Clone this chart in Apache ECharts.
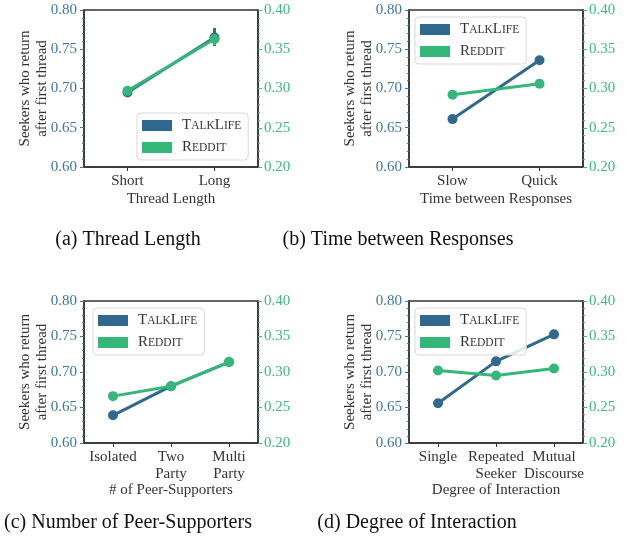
<!DOCTYPE html>
<html>
<head>
<meta charset="utf-8">
<script src="https://cdn.jsdelivr.net/npm/echarts@6/dist/echarts.min.js"></script>
<style>html,body{margin:0;padding:0;background:#fff;}#c{width:626px;height:544px;}</style>
</head>
<body>
<div id="c"></div>
<script>
// ---- data ----
var catsA = ['Short', 'Long'];
var talkA = [0.695, 0.765];
var redditA = [0.297, 0.363];
var talkErrA = [[0.692, 0.699], [0.754, 0.777]];
var redditErrA = [[0.294, 0.300], [0.355, 0.369]];

var catsB = ['Slow', 'Quick'];
var talkB = [0.661, 0.736];
var redditB = [0.292, 0.306];

var catsC = ['Isolated', 'Two\nParty', 'Multi\nParty'];
var talkC = [0.639, 0.680, 0.714];
var redditC = [0.266, 0.280, 0.314];

var catsD = ['Single', 'Repeated\nSeeker', 'Mutual\nDiscourse'];
var talkD = [0.656, 0.715, 0.753];
var redditD = [0.302, 0.295, 0.305];

var xNames = ['Thread Length', 'Time between Responses', '# of Peer-Supporters', 'Degree of Interaction'];
var captions = ['(a) Thread Length', '(b) Time between Responses', '(c) Number of Peer-Supporters', '(d) Degree of Interaction'];
var leftTicks = {min: 0.6, max: 0.8, interval: 0.05};
var rightTicks = {min: 0.2, max: 0.4, interval: 0.05};
var yTitle = 'Seekers who return\nafter first thread';

// ---- style ----
var TL = '#31688e', RD = '#35b779';
var TLtext = '#3d78a3', RDtext = '#3cbb7c';
var FONT = 'Liberation Serif';
var DARK = '#333333';

var grids = [
  {left: 84, top: 10, width: 174, height: 157},
  {left: 409, top: 10, width: 174, height: 157},
  {left: 84, top: 301, width: 174, height: 142},
  {left: 409, top: 301, width: 174, height: 142}
];
var legendPos = [
  {left: 137, top: 113},
  {left: 415, top: 17},
  {left: 93, top: 308},
  {left: 415, top: 308}
];
var captionPos = [[128, 240], [398, 240], [128, 523], [417, 523]];
var allCats = [catsA, catsB, catsC, catsD];
var allTalk = [talkA, talkB, talkC, talkD];
var allReddit = [redditA, redditB, redditC, redditD];

function errSeries(errs, gi, ax, color, z) {
  return {
    type: 'custom', xAxisIndex: gi, yAxisIndex: 2 * gi + ax, z: z,
    data: errs.map(function (e, k) { return [k, e[0], e[1]]; }),
    encode: {x: 0, y: [1, 2]},
    renderItem: function (params, api) {
      var lo = api.coord([api.value(0), api.value(1)]);
      var hi = api.coord([api.value(0), api.value(2)]);
      return {type: 'line', shape: {x1: lo[0], y1: lo[1], x2: hi[0], y2: hi[1]},
        style: {stroke: color, lineWidth: 3}};
    }
  };
}

var xAxis = [], yAxis = [], series = [], legend = [], graphic = [];
grids.forEach(function (g, i) {
  g.show = true; g.borderColor = DARK; g.borderWidth = 1.5; g.containLabel = false;
  xAxis.push({
    type: 'category', gridIndex: i, data: allCats[i], boundaryGap: true,
    name: xNames[i], nameLocation: 'middle', nameGap: (i < 2 ? 25 : 40),
    nameMoveOverlap: false,
    nameTextStyle: {fontFamily: FONT, fontSize: 15, color: DARK},
    axisLine: {show: true, lineStyle: {color: DARK, width: 1.5}},
    axisTick: {show: true, alignWithLabel: true, length: 4, lineStyle: {color: DARK}},
    axisLabel: {fontFamily: FONT, fontSize: 15, color: DARK, margin: 6, lineHeight: 17, interval: 0},
    splitLine: {show: false}
  });
  yAxis.push({
    type: 'value', gridIndex: i, position: 'left',
    min: leftTicks.min, max: leftTicks.max, interval: leftTicks.interval,
    name: yTitle, nameLocation: 'middle', nameRotate: 90, nameGap: 33,
    nameMoveOverlap: false,
    nameTextStyle: {fontFamily: FONT, fontSize: 15, color: DARK, lineHeight: 17},
    axisLine: {show: true, lineStyle: {color: DARK, width: 1.5}},
    axisTick: {show: true, length: 4, lineStyle: {color: TLtext}},
    minorTick: {show: true, splitNumber: 5, length: 2, lineStyle: {color: TLtext}},
    axisLabel: {fontFamily: FONT, fontSize: 15, color: TLtext, margin: 7,
      formatter: function (v) { return v.toFixed(2); }},
    splitLine: {show: false}
  });
  yAxis.push({
    type: 'value', gridIndex: i, position: 'right',
    min: rightTicks.min, max: rightTicks.max, interval: rightTicks.interval,
    axisLine: {show: true, lineStyle: {color: DARK, width: 1.5}},
    axisTick: {show: true, length: 4, lineStyle: {color: RDtext}},
    minorTick: {show: true, splitNumber: 5, length: 2, lineStyle: {color: RDtext}},
    axisLabel: {fontFamily: FONT, fontSize: 15, color: RDtext, margin: 6,
      formatter: function (v) { return v.toFixed(2); }},
    splitLine: {show: false}
  });
  series.push({
    name: 'TalkLife', type: 'line', xAxisIndex: i, yAxisIndex: 2 * i,
    data: allTalk[i], symbol: 'circle', symbolSize: 10,
    lineStyle: {color: TL, width: 3}, itemStyle: {color: TL}, z: 2
  });
  if (i === 0) {
    series.push(errSeries(talkErrA, 0, 0, TL, 3));
  }
  series.push({
    name: 'Reddit', type: 'line', xAxisIndex: i, yAxisIndex: 2 * i + 1,
    data: allReddit[i], symbol: 'circle', symbolSize: 10,
    lineStyle: {color: RD, width: 3}, itemStyle: {color: RD}, z: 4
  });
  if (i === 0) {
    series.push(errSeries(redditErrA, 0, 1, RD, 5));
  }
  legend.push({
    data: ['TalkLife', 'Reddit'], orient: 'vertical',
    left: legendPos[i].left, top: legendPos[i].top,
    icon: 'rect', itemWidth: 30, itemHeight: 11, itemGap: 7,
    padding: [5, 7, 5, 5], borderColor: '#d9d9d9', borderWidth: 1, borderRadius: 4,
    backgroundColor: 'rgba(255,255,255,0.85)',
    selectedMode: false,
    formatter: function (n) {
      return n === 'TalkLife' ? '{a|T}{b|ALK}{a|L}{b|IFE}' : '{a|R}{b|EDDIT}';
    },
    textStyle: {
      padding: [0, 0, 0, 5],
      rich: {
        a: {fontFamily: FONT, fontSize: 15, color: DARK},
        b: {fontFamily: FONT, fontSize: 11.5, color: DARK}
      }
    }
  });
  graphic.push({
    type: 'text', x: captionPos[i][0], y: captionPos[i][1],
    style: {text: captions[i], font: '20px "Liberation Serif"', fill: '#111',
      textAlign: 'center', textVerticalAlign: 'middle'}
  });
});

var chart = echarts.init(document.getElementById('c'), null, {renderer: 'canvas'});
chart.setOption({
  animation: false,
  backgroundColor: '#ffffff',
  grid: grids, xAxis: xAxis, yAxis: yAxis, series: series, legend: legend,
  graphic: graphic
});
</script>
</body>
</html>
